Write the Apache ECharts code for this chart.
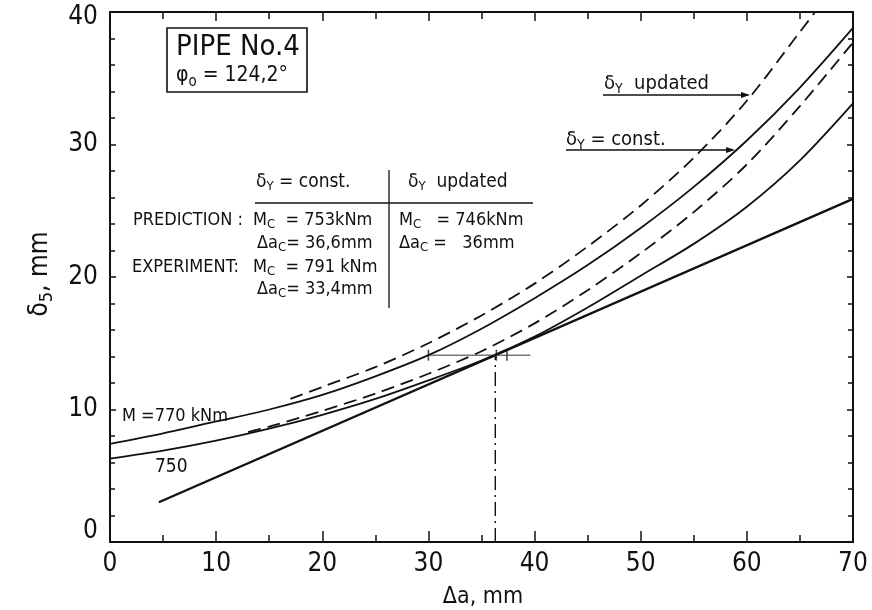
<!DOCTYPE html>
<html>
<head>
<meta charset="utf-8">
<script src="https://cdn.jsdelivr.net/npm/echarts@6/dist/echarts.min.js"></script>
<style>
  html, body { margin: 0; padding: 0; background: #fff; }
  #chart { width: 872px; height: 610px; }
</style>
</head>
<body>
<div id="chart"></div>
<script>
// curves, delta_5 (mm) against delta a (mm)
const xConst770 = [0, 5, 10, 15, 20, 25, 30, 35, 40, 45, 50, 55, 60, 65, 70];
const yConst770 = [7.4, 8.2, 9.1, 10.0, 11.1, 12.5, 14.1, 16.1, 18.4, 20.9, 23.7, 26.8, 30.3, 34.3, 38.8];

const xConst750 = [0, 5, 10, 15, 20, 25, 30, 35, 40, 45, 50, 55, 60, 65, 70];
const yConst750 = [6.3, 6.9, 7.65, 8.55, 9.6, 10.8, 12.2, 13.7, 15.5, 17.7, 20.1, 22.5, 25.3, 28.8, 33.1];

const xUpd770 = [17, 20, 25, 30, 35, 40, 45, 50, 55, 60, 65, 67];
const yUpd770 = [10.8, 11.7, 13.2, 15.0, 17.1, 19.5, 22.3, 25.4, 29.0, 33.3, 38.5, 40.6];

const xUpd750 = [13, 15, 20, 25, 30, 35, 40, 45, 50, 55, 60, 65, 70];
const yUpd750 = [8.3, 8.7, 9.9, 11.2, 12.7, 14.4, 16.5, 19.0, 21.8, 24.9, 28.5, 32.9, 37.7];

// tangent (resistance) line
const xTangent = [4.6, 70];
const yTangent = [3.0, 25.9];

// critical point construction
const xCritical = [36.3, 36.3];
const yCritical = [0, 14.1];
const xLevel = [30, 39.6];
const yLevel = [14.1, 14.1];
const xMarks = [30, 36.4, 37.4];
const yMarks = [14.1, 14.1, 14.1];

const xTicks = [0, 10, 20, 30, 40, 50, 60, 70];
const yTicks = [0, 10, 20, 30, 40];

const FONT = "'Liberation Sans Narrow','DejaVu Sans Condensed','Liberation Sans',sans-serif";

function pairs(xs, ys) {
  let out = [];
  for (let i = 0; i < xs.length; i++) {
    out.push([xs[i], ys[i]]);
  }
  return out;
}

function curve(xs, ys, dashed, width) {
  return {
    type: 'line',
    data: pairs(xs, ys),
    smooth: 0.3,
    showSymbol: false,
    silent: true,
    clip: true,
    lineStyle: {
      color: '#111',
      width: width || 1.8,
      type: dashed ? [13, 7] : 'solid'
    }
  };
}

function txt(x, y, text, size, extra) {
  let style = {
    text: text,
    fill: '#111',
    font: size + 'px ' + FONT,
    align: 'left',
    verticalAlign: 'middle',
    rich: {
      n: { fontSize: size, fontFamily: FONT, fill: '#111' },
      s: { fontSize: Math.round(size * 0.7), fontFamily: FONT, fill: '#111', padding: [Math.round(size * 0.55), 0, 0, 0] }
    }
  };
  return Object.assign({ type: 'text', x: x, y: y, style: style, silent: true }, extra || {});
}

function seg(x1, y1, x2, y2, w) {
  return {
    type: 'line',
    shape: { x1: x1, y1: y1, x2: x2, y2: y2 },
    style: { stroke: '#111', lineWidth: w || 1.5 },
    silent: true
  };
}

function arrowHead(x, y) {
  return {
    type: 'polygon',
    shape: { points: [[x, y], [x - 9, y - 3], [x - 9, y + 3]] },
    style: { fill: '#111' },
    silent: true
  };
}

const chart = echarts.init(document.getElementById('chart'));

const axisLine = { show: true, onZero: false, lineStyle: { color: '#111', width: 2 } };

function sideAxis(extra) {
  return Object.assign({
    type: 'value',
    axisLine: axisLine,
    splitLine: { show: false }
  }, extra);
}

let xName = txt(483, 597, 'Δa, mm', 23);
xName.style.align = 'center';
let yName = txt(40, 274, '{n|δ}{s|5}{n|, mm}', 26, { rotation: Math.PI / 2 });
yName.style.align = 'center';

const option = {
  animation: false,
  backgroundColor: '#fff',
  grid: { left: 110, right: 19, top: 12, bottom: 68, containLabel: false },
  xAxis: [
    sideAxis({
      min: 0, max: 70, interval: 10, position: 'bottom',
      axisTick: { show: true, inside: true, length: 11, lineStyle: { color: '#111', width: 1.5 } },
      minorTick: { show: true, splitNumber: 2, length: 7, lineStyle: { color: '#111', width: 1.5 } },
      axisLabel: {
        color: '#111', fontSize: 26, fontFamily: FONT, margin: 9,
        formatter: v => xTicks.indexOf(v) >= 0 ? String(v) : ''
      }
    }),
    sideAxis({
      min: 0, max: 70, interval: 10, position: 'top',
      axisTick: { show: true, inside: true, length: 9, lineStyle: { color: '#111', width: 1.5 } },
      minorTick: { show: true, splitNumber: 2, length: 7, lineStyle: { color: '#111', width: 1.5 } },
      axisLabel: { show: false }
    })
  ],
  yAxis: [
    sideAxis({
      min: 0, max: 40, interval: 10, position: 'left',
      axisTick: { show: true, inside: true, length: 6, lineStyle: { color: '#111', width: 1.5 } },
      minorTick: { show: true, splitNumber: 5, length: 5, lineStyle: { color: '#111', width: 1.5 } },
      axisLabel: {
        color: '#111', fontSize: 26, fontFamily: FONT, margin: 12,
        formatter: v => {
          if (yTicks.indexOf(v) < 0) return '';
          if (v === 0) return '{lo|0}';
          if (v === 40) return '{hi|40}';
          return String(v);
        },
        rich: {
          lo: { fontSize: 26, fontFamily: FONT, color: '#111', padding: [0, 0, 22, 0] },
          hi: { fontSize: 26, fontFamily: FONT, color: '#111', padding: [10, 0, 0, 0] }
        }
      }
    }),
    sideAxis({
      min: 0, max: 40, interval: 10, position: 'right',
      axisTick: { show: true, inside: true, length: 6, lineStyle: { color: '#111', width: 1.5 } },
      minorTick: { show: true, splitNumber: 5, length: 5, lineStyle: { color: '#111', width: 1.5 } },
      axisLabel: { show: false }
    })
  ],
  series: [
    curve(xConst770, yConst770, false),
    curve(xConst750, yConst750, false),
    curve(xUpd770, yUpd770, true),
    curve(xUpd750, yUpd750, true),
    curve(xTangent, yTangent, false, 2.4),
    {
      type: 'line',
      data: pairs(xCritical, yCritical),
      showSymbol: false,
      silent: true,
      lineStyle: { color: '#111', width: 1.4, type: [14, 5, 2, 5] }
    },
    {
      type: 'line',
      data: pairs(xLevel, yLevel),
      showSymbol: false,
      silent: true,
      lineStyle: { color: '#333', width: 1 }
    },
    {
      type: 'scatter',
      data: pairs(xMarks, yMarks),
      symbol: 'rect',
      symbolSize: [1.5, 11],
      silent: true,
      itemStyle: { color: '#111' }
    }
  ],
  graphic: [
    // title box
    {
      type: 'rect',
      shape: { x: 167, y: 28, width: 140, height: 64 },
      style: { fill: 'none', stroke: '#111', lineWidth: 1.6 },
      silent: true
    },
    txt(176, 47, 'PIPE No.4', 29),
    txt(176, 76, '{n|φ}{s|o}{n| = 124,2°}', 21),

    // results table
    txt(256, 182, '{n|δ}{s|Y}{n| = const.}', 19),
    txt(408, 182, '{n|δ}{s|Y}{n|  updated}', 19),
    seg(255, 203, 533, 203, 1.5),
    seg(389, 170, 389, 308, 1.3),
    txt(133, 220, 'PREDICTION :', 18),
    txt(253, 220, '{n|M}{s|C}{n|  = 753kNm}', 18),
    txt(257, 243, '{n|Δa}{s|C}{n|= 36,6mm}', 18),
    txt(132, 267, 'EXPERIMENT:', 18),
    txt(253, 267, '{n|M}{s|C}{n|  = 791 kNm}', 18),
    txt(257, 289, '{n|Δa}{s|C}{n|= 33,4mm}', 18),
    txt(399, 220, '{n|M}{s|C}{n|   = 746kNm}', 18),
    txt(399, 243, '{n|Δa}{s|C}{n| =   36mm}', 18),

    // curve labels
    txt(122, 416, 'M =770 kNm', 18),
    txt(155, 467, '750', 19),
    txt(604, 84, '{n|δ}{s|Y}{n|  updated}', 20),
    seg(603, 95, 748, 95, 1.5),
    arrowHead(750, 95),
    txt(566, 140, '{n|δ}{s|Y}{n| = const.}', 20),
    seg(566, 150, 733, 150, 1.5),
    arrowHead(735, 150),

    // axis names
    xName,
    yName
  ]
};

chart.setOption(option);
</script>
</body>
</html>
